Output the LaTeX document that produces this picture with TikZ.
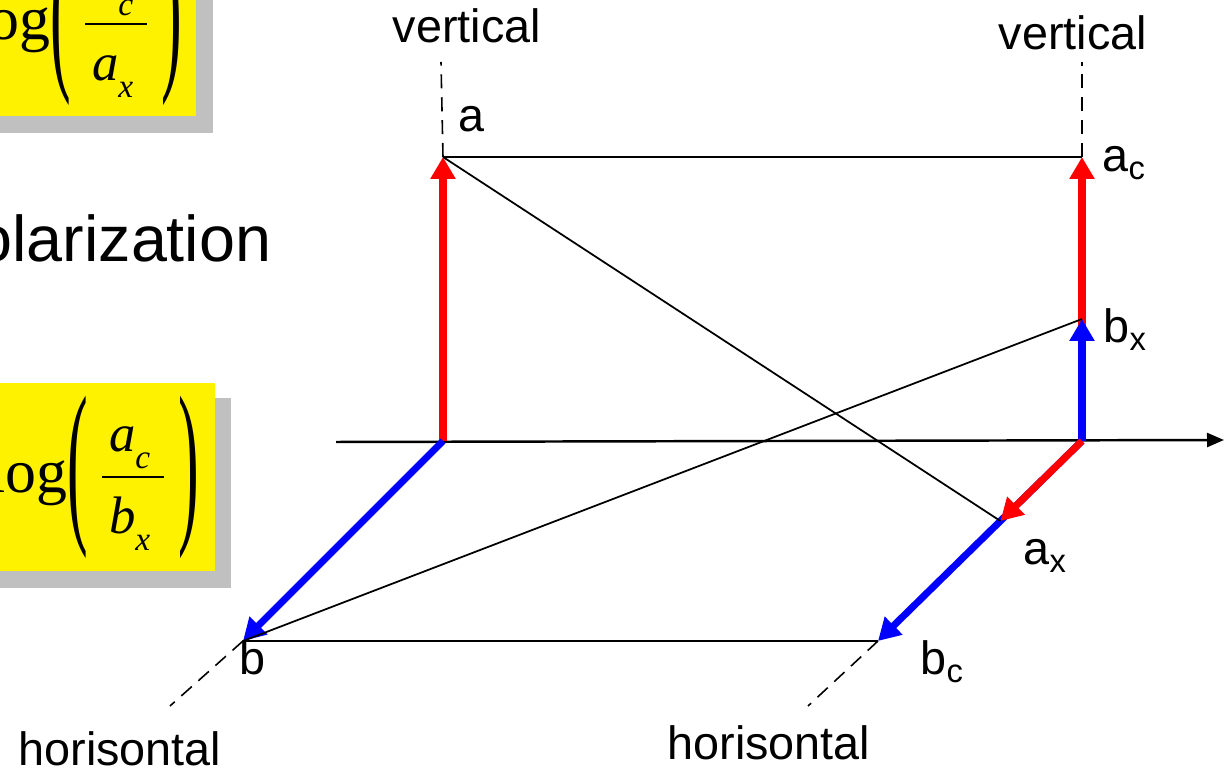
\documentclass[tikz,border=0pt]{standalone}
\usepackage{amsmath}
\usepackage{graphicx}
\usepackage{fontspec}
\setmainfont{Liberation Sans}
\newfontfamily\timesfont{Liberation Serif}
\usepackage{xcolor}
\usepackage{tikz}
\usetikzlibrary{arrows.meta,calc,positioning}
\definecolor{shadowgray}{RGB}{192,192,192}
\newcommand{\fracpart}[2]{\text{\fontsize{15}{18}\selectfont\timesfont\itshape #1\raisebox{-0.7ex}{\fontsize{9.5}{11}\selectfont #2}}}
\newcommand{\bigparen}[1]{\vcenter{\hbox{\scalebox{1}[2.9]{\timesfont #1}}}}
\newcommand{\logratio}[2]{$\text{\timesfont log}\bigparen{(}\,\dfrac{\hspace{2pt}#1\hspace{4pt}}{\hspace{2pt}#2\hspace{4pt}}\,\bigparen{)}$}

\begin{document}
\begin{tikzpicture}[
  thinline/.style={line width=0.5pt},
  guide/.style={line width=0.45pt, dash pattern=on 4pt off 2.5pt},
  axis/.style={line width=0.7pt, -{Triangle[length=0.17cm, width=0.14cm]}},
  redvec/.style={line width=2pt, red, -{Triangle[length=0.22cm, width=0.24cm]}},
  bluevec/.style={line width=2pt, blue, -{Triangle[length=0.22cm, width=0.24cm]}},
  label/.style={font=\fontsize{13.3}{16}\selectfont, inner sep=0pt, anchor=base west},
  formula/.style={font=\fontsize{17.6}{21}\selectfont, inner sep=0pt, anchor=east},
]
  \useasboundingbox (0,0) rectangle (12.26,7.68);
  \clip (0,0) rectangle (12.26,7.68);
  % Formula boxes
  \fill[shadowgray] (-0.2,6.35) rectangle (2.13,8.5);
  \fill[yellow] (-0.2,6.52) rectangle (1.96,8.5);
  \node[formula] (fa) at (1.83,7.44) {\logratio{\fracpart{a}{c}}{\fracpart{a}{x}}};
  \fill[shadowgray] (-0.2,1.80) rectangle (2.31,3.70);
  \fill[yellow] (-0.2,1.97) rectangle (2.15,3.85);
  \node[formula] (fb) at (2.00,2.91) {\logratio{\fracpart{a}{c}}{\fracpart{b}{x}}};
  \node[font=\fontsize{18.4}{22}\selectfont, inner sep=0pt, anchor=base east]
    (pol) at (2.72,5.06) {polarization};
  % Points
  \coordinate (o1) at (4.43,3.27);
  \coordinate (o2) at (10.82,3.27);
  \coordinate (a) at (4.43,6.11);
  \coordinate (ac) at (10.82,6.11);
  \coordinate (bx) at (10.82,4.49);
  \coordinate (b) at (2.43,1.27);
  \coordinate (bc) at (8.78,1.27);
  \coordinate (ax) at ($(o2)!0.4!(bc)$);
  \coordinate (atop) at (4.41,7.06);
  \coordinate (actop) at (10.82,7.06);
  \coordinate (bend) at (1.70,0.62);
  \coordinate (bcend) at (8.08,0.62);
  \coordinate (axl) at (3.36,3.26);
  \coordinate (axr) at (12.24,3.28);
  % Axis
  \draw[axis] (axl) -- (axr);
  % Vectors
  \draw[redvec] (o1) -- (a);
  \draw[bluevec] (o1) -- (b);
  \draw[redvec] (o2) -- (ac);
  \draw[bluevec] (o2) -- (bx);
  \draw[bluevec] (o2) -- (bc);
  \draw[redvec] (o2) -- (ax);
  % Thin lines
  \draw[thinline] (a) -- (ac);
  \draw[thinline] (a) -- (ax);
  \draw[thinline] (b) -- (bx);
  \draw[thinline] (b) -- (bc);
  % Guides
  \draw[guide] (a) -- (atop);
  \draw[guide] (ac) -- (actop);
  \draw[guide] (b) -- (bend);
  \draw[guide] (bc) -- (bcend);
  % Labels
  \node[label] (vert1) at (3.92,7.25) {vertical};
  \node[label] (vert2) at (9.98,7.18) {vertical};
  \node[label] (lbla) at (4.58,6.36) {a};
  \node[label] (lblac) at (11.02,5.96) {a\textsubscript{c}};
  \node[label] (lblbx) at (11.03,4.25) {b\textsubscript{x}};
  \node[label] (lblax) at (10.23,2.03) {a\textsubscript{x}};
  \node[label] (lblb) at (2.39,0.93) {b};
  \node[label] (lblbc) at (9.20,0.93) {b\textsubscript{c}};
  \node[label] (hor1) at (0.18,0.02) {horisontal};
  \node[label] (hor2) at (6.67,0.08) {horisontal};
\end{tikzpicture}
\end{document}
